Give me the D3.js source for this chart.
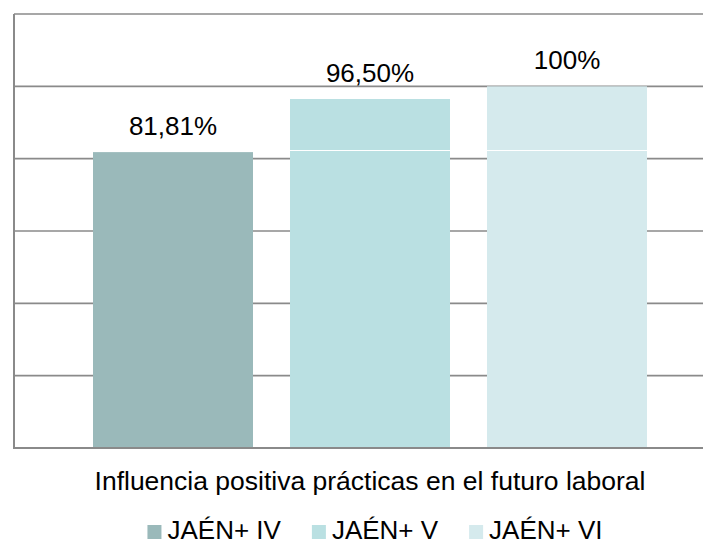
<!DOCTYPE html>
<html>
<head>
<meta charset="utf-8">
<script src="https://cdn.jsdelivr.net/npm/d3@7"></script>
<style>
  html, body { margin: 0; padding: 0; background: #fff; }
  svg { display: block; font-family: "Liberation Sans", Arial, sans-serif; }
</style>
</head>
<body>
<svg width="703" height="545"></svg>
<script>
// chart data
const series = ['JAÉN+ IV', 'JAÉN+ V', 'JAÉN+ VI'];
const values = [81.81, 96.5, 100];
const valueLabels = ['81,81%', '96,50%', '100%'];
const lowerPart = [81.81, 82.3, 82.3]; // the thin white split seen inside the bars
const colors = ['#9ab9ba', '#bae0e2', '#d5eaed'];
const yTicks = [0, 20, 40, 60, 80, 100, 120];
const category = 'Influencia positiva prácticas en el futuro laboral';

const svg = d3.select('svg');

const y = d3.scaleLinear().domain([0, 120]).range([448, 14]);
const x = d3.scaleBand()
    .domain(series)
    .range([74.5, 665.5])
    .paddingInner(0.1878)
    .paddingOuter(0.0939);

const left = 14, right = 710;

// gridlines
svg.append('g')
    .selectAll('line')
    .data(yTicks.filter(d => d > 0))
    .enter()
    .append('line')
        .attr('x1', left)
        .attr('x2', right)
        .attr('y1', d => y(d))
        .attr('y2', d => y(d))
        .attr('stroke', '#8a8a8a')
        .attr('stroke-width', 1.6);

// bars
const bars = svg.append('g');
bars.selectAll('rect')
    .data(series)
    .enter()
    .append('rect')
        .attr('x', d => x(d))
        .attr('width', x.bandwidth())
        .attr('y', (d, i) => y(values[i]))
        .attr('height', (d, i) => y(0) - y(values[i]))
        .attr('fill', (d, i) => colors[i]);

// white split line inside the taller bars
bars.selectAll('line')
    .data(series.filter((d, i) => values[i] > lowerPart[i]))
    .enter()
    .append('line')
        .attr('x1', d => x(d))
        .attr('x2', d => x(d) + x.bandwidth())
        .attr('y1', d => Math.round(y(lowerPart[series.indexOf(d)])) + 0.5)
        .attr('y2', d => Math.round(y(lowerPart[series.indexOf(d)])) + 0.5)
        .attr('stroke', '#fff')
        .attr('stroke-width', 1);

// axes lines
svg.append('line')
    .attr('x1', left).attr('x2', left)
    .attr('y1', y(120)).attr('y2', y(0))
    .attr('stroke', '#8a8a8a').attr('stroke-width', 2);
svg.append('line')
    .attr('x1', left - 1).attr('x2', right)
    .attr('y1', y(0)).attr('y2', y(0))
    .attr('stroke', '#8a8a8a').attr('stroke-width', 2);

// value labels
svg.append('g')
    .selectAll('text')
    .data(series)
    .enter()
    .append('text')
        .attr('x', d => x(d) + x.bandwidth() / 2)
        .attr('y', (d, i) => y(values[i]) - 17)
        .attr('text-anchor', 'middle')
        .style('font-size', '26px')
        .style('fill', '#000')
        .text((d, i) => valueLabels[i]);

// category label
const center = 370;
svg.append('text')
    .attr('x', center)
    .attr('y', 490)
    .attr('text-anchor', 'middle')
    .style('font-size', '26.5px')
    .style('fill', '#000')
    .text(category);

// legend (kept just inside the bottom edge)
const legend = svg.append('g');
const items = legend.selectAll('g')
    .data(series)
    .enter()
    .append('g');
items.append('rect')
    .attr('width', 14)
    .attr('height', 14)
    .attr('y', 525)
    .attr('fill', (d, i) => colors[i]);
items.append('text')
    .attr('x', 20)
    .attr('y', 539)
    .style('font-size', '26px')
    .style('fill', '#000')
    .text(d => d);

let pos = 0;
const offsets = [];
items.each(function(d, i) {
    offsets.push(pos);
    let w = d3.select(this).select('text').node().getComputedTextLength();
    pos += 20 + w + (i < series.length - 1 ? 31 : 0);
});
const start = center + 5 - pos / 2;
items.attr('transform', (d, i) => `translate(${start + offsets[i]},0)`);
</script>
</body>
</html>
